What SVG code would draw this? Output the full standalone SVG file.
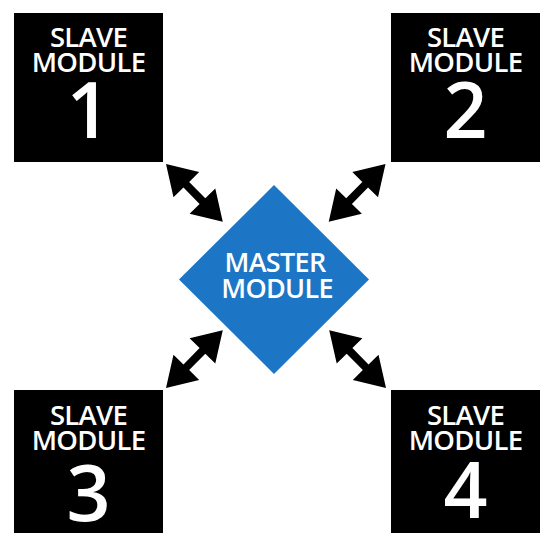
<svg xmlns="http://www.w3.org/2000/svg" xmlns:xlink="http://www.w3.org/1999/xlink" width="540" height="533" viewBox="0 0 540 533">
  <style>
    .box { fill: #000000; }
    .master { fill: #1c76c5; }
    .lbl { font-family: "Open Sans", "Liberation Sans", sans-serif; font-weight: 600; fill: #ffffff; text-anchor: middle; }
    .small { font-size: 27.5px; letter-spacing: -0.7px; }
    .num { font-size: 77px; }
    .mlbl { font-size: 27px; letter-spacing: -0.7px; }
    .arrow { fill: #000000; }
  </style>
  <defs>
    <path id="dbl" d="M0,0 L29,-18 L29,-4 L52,-4 L52,-18 L81,0 L52,18 L52,4 L29,4 L29,18 Z"/>
  </defs>
  <rect width="540" height="533" fill="#ffffff"/>

  <g id="connectors" class="arrow">
    <use xlink:href="#dbl" href="#dbl" transform="translate(166,164) rotate(45.5)"/>
    <use xlink:href="#dbl" href="#dbl" transform="translate(385.5,164) rotate(134.5)"/>
    <use xlink:href="#dbl" href="#dbl" transform="translate(166,388) rotate(-45.5)"/>
    <use xlink:href="#dbl" href="#dbl" transform="translate(386,388) rotate(-134.5)"/>
  </g>

  <g id="slave1">
    <rect class="box" x="14" y="13" width="149" height="149"/>
    <text class="lbl small" x="88.5" y="47">SLAVE</text>
    <text class="lbl small" x="88.5" y="72">MODULE</text>
    <text class="lbl num" x="88.5" y="138">1</text>
  </g>

  <g id="slave2">
    <rect class="box" x="391" y="13" width="149" height="149"/>
    <text class="lbl small" x="465.5" y="47">SLAVE</text>
    <text class="lbl small" x="465.5" y="72">MODULE</text>
    <text class="lbl num" x="465.5" y="138">2</text>
  </g>

  <g id="slave3">
    <rect class="box" x="14" y="390" width="149" height="149"/>
    <text class="lbl small" x="88.5" y="425">SLAVE</text>
    <text class="lbl small" x="88.5" y="450">MODULE</text>
    <text class="lbl num" x="88.5" y="521">3</text>
  </g>

  <g id="slave4">
    <rect class="box" x="391" y="390" width="149" height="149"/>
    <text class="lbl small" x="465.5" y="425">SLAVE</text>
    <text class="lbl small" x="465.5" y="450">MODULE</text>
    <text class="lbl num" x="465.5" y="518">4</text>
  </g>

  <g id="master">
    <polygon class="master" points="274,185 369,279.5 274,374 179,279.5"/>
    <text class="lbl mlbl" x="275" y="272">MASTER</text>
    <text class="lbl mlbl" x="277" y="298">MODULE</text>
  </g>
</svg>
